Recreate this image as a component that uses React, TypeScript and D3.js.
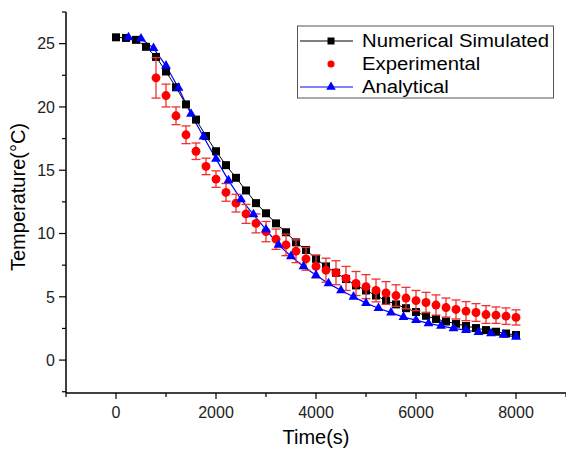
import React from "react";
import * as d3 from "d3";

// Numerical simulated (black squares), every 200 s
const numTime = d3.range(0, 8001, 200);
const numTemp = [
  25.5, 25.45, 25.3, 24.75, 23.95, 22.8, 21.55, 20.2, 19.0, 17.7, 16.5, 15.4,
  14.4, 13.4, 12.4, 11.6, 10.8, 10.1, 9.3, 8.7, 8.0, 7.4, 6.9, 6.4, 5.9, 5.5,
  5.1, 4.7, 4.4, 4.1, 3.8, 3.5, 3.25, 3.05, 2.87, 2.7, 2.53, 2.37, 2.24, 2.1,
  1.98,
];

// Experimental (red circles with error bars), every 200 s from 800 s
const expTime = d3.range(800, 8001, 200);
const expTemp = [
  22.3, 20.9, 19.3, 17.8, 16.5, 15.3, 14.3, 13.25, 12.4, 11.55, 10.8, 10.15,
  9.55, 9.1, 8.6, 8.0, 7.4, 7.1, 6.9, 6.45, 6.05, 5.8, 5.5, 5.3, 5.1, 4.9,
  4.7, 4.55, 4.35, 4.15, 4.0, 3.87, 3.76, 3.6, 3.55, 3.47, 3.37,
];
const expErr = [
  1.6, 0.9, 0.7, 0.7, 0.65, 0.65, 0.65, 0.7, 0.7, 0.75, 0.75, 0.8, 0.8, 0.85,
  0.9, 0.9, 0.9, 0.95, 0.95, 0.95, 0.95, 0.95, 0.9, 0.9, 0.85, 0.85, 0.8, 0.8,
  0.8, 0.75, 0.75, 0.75, 0.7, 0.7, 0.65, 0.65, 0.6,
];

// Analytical (blue triangles), every 250 s from 250 s
const anaTime = d3.range(250, 8001, 250);
const anaTemp = [
  25.5, 25.4, 24.65, 23.25, 21.5, 19.45, 17.65, 15.9, 14.2, 12.7, 11.5, 10.3,
  9.1, 8.2, 7.4, 6.7, 6.06, 5.5, 5.0, 4.5, 4.1, 3.75, 3.4, 3.16, 2.9, 2.7,
  2.5, 2.37, 2.2, 2.1, 1.98, 1.84,
];

const xTicks = [0, 2000, 4000, 6000, 8000];
const xMinor = [-1000, 1000, 3000, 5000, 7000, 9000];
const yTicks = [0, 5, 10, 15, 20, 25];
const yMinor = [-2.5, 2.5, 7.5, 12.5, 17.5, 22.5, 27.5];

const legendItems = ["Numerical Simulated", "Experimental", "Analytical"];

const font = "'Liberation Sans', Arial, sans-serif";

const App = () => {
  const width = 566;
  const height = 449;

  const x = d3.scaleLinear().domain([-1000, 9000]).range([66, 566]);
  const y = d3.scaleLinear().domain([-2.6, 27.5]).range([393, 12]);
  const x0 = x.range()[0];
  const y0 = y.range()[0];

  const numData = numTime.map((t, i) => [t, numTemp[i]] as [number, number]);
  const anaData = anaTime.map((t, i) => [t, anaTemp[i]] as [number, number]);

  const line = d3
    .line<[number, number]>()
    .x((d) => x(d[0]))
    .y((d) => y(d[1]));

  const sq = d3.symbol(d3.symbolSquare, 64)();
  const tri = d3.symbol(d3.symbolTriangle, 42)();
  const circ = d3.symbol(d3.symbolCircle, 62)();

  return (
    <svg
      width={width}
      height={height}
      style={{ position: "absolute", left: 0, top: 0, background: "#fff" }}
      fontFamily={font}
    >
      {/* Series lines */}
      <path d={line(numData) || ""} fill="none" stroke="#000" strokeWidth={1} />
      <path d={line(anaData) || ""} fill="none" stroke="#0000ff" strokeWidth={1.2} />

      {/* Squares */}
      {numData.map((d, i) => (
        <path key={`n-${i}`} d={sq} transform={`translate(${x(d[0])},${y(d[1])})`} fill="#000" />
      ))}

      {/* Error bars + circles */}
      {expTime.map((t, i) => {
        const cx = x(t);
        const top = y(expTemp[i] + expErr[i]);
        const bot = y(expTemp[i] - expErr[i]);
        return (
          <g key={`e-${i}`} stroke="#f03030" strokeWidth={1.3}>
            <line x1={cx} x2={cx} y1={top} y2={bot} />
            <line x1={cx - 4.5} x2={cx + 4.5} y1={top} y2={top} />
            <line x1={cx - 4.5} x2={cx + 4.5} y1={bot} y2={bot} />
          </g>
        );
      })}
      {expTime.map((t, i) => (
        <path key={`c-${i}`} d={circ} transform={`translate(${x(t)},${y(expTemp[i])})`} fill="#ff0000" />
      ))}

      {/* Triangles */}
      {anaData.map((d, i) => (
        <path key={`a-${i}`} d={tri} transform={`translate(${x(d[0])},${y(d[1])})`} fill="#0000ff" />
      ))}

      {/* Y axis */}
      <line x1={x0} x2={x0} y1={12} y2={y0} stroke="#000" strokeWidth={1.5} />
      {yTicks.map((t) => (
        <g key={`yt-${t}`}>
          <line x1={x0 - 7} x2={x0} y1={y(t)} y2={y(t)} stroke="#000" strokeWidth={1.2} />
          <text x={x0 - 11} y={y(t)} dy="0.36em" textAnchor="end" fontSize={16} fill="#222">
            {t}
          </text>
        </g>
      ))}
      {yMinor.map((t) => (
        <line key={`ym-${t}`} x1={x0 - 4} x2={x0} y1={y(t)} y2={y(t)} stroke="#000" strokeWidth={1.2} />
      ))}

      {/* X axis */}
      <line x1={x0} x2={566} y1={y0} y2={y0} stroke="#000" strokeWidth={1.5} />
      {xTicks.map((t) => (
        <g key={`xt-${t}`}>
          <line x1={x(t)} x2={x(t)} y1={y0} y2={y0 + 6} stroke="#000" strokeWidth={1.2} />
          <text x={x(t)} y={y0 + 25} textAnchor="middle" fontSize={16} fill="#222">
            {t}
          </text>
        </g>
      ))}
      {xMinor.map((t) => (
        <line key={`xm-${t}`} x1={x(t)} x2={x(t)} y1={y0} y2={y0 + 4} stroke="#000" strokeWidth={1.2} />
      ))}

      {/* Axis titles */}
      <text x={316} y={444} textAnchor="middle" fontSize={20} fill="#000">
        Time(s)
      </text>
      <text
        transform="translate(25,197) rotate(-90)"
        textAnchor="middle"
        fontSize={20}
        fill="#000"
      >
        Temperature(°C)
      </text>

      {/* Legend */}
      <g>
        <rect x={297.5} y={26} width={256} height={72} fill="#fff" stroke="#555" strokeWidth={1} />
        {legendItems.map((name, i) => {
          const cy = 41 + i * 23;
          return (
            <g key={name}>
              {i === 0 && (
                <>
                  <line x1={300} x2={353} y1={cy} y2={cy} stroke="#000" strokeWidth={1} />
                  <path d={d3.symbol(d3.symbolSquare, 49)()} transform={`translate(331,${cy})`} fill="#000" />
                </>
              )}
              {i === 1 && (
                <path d={d3.symbol(d3.symbolCircle, 40)()} transform={`translate(331,${cy})`} fill="#ff0000" />
              )}
              {i === 2 && (
                <>
                  <line x1={300} x2={353} y1={cy} y2={cy} stroke="#0000ff" strokeWidth={1.2} />
                  <path d={d3.symbol(d3.symbolTriangle, 40)()} transform={`translate(331,${cy})`} fill="#0000ff" />
                </>
              )}
              <text
                transform={`translate(362,${cy}) scale(1.16,1)`}
                dy="0.36em"
                fontSize={17.5}
                fill="#000"
              >
                {name}
              </text>
            </g>
          );
        })}
      </g>
    </svg>
  );
};

export default App;
